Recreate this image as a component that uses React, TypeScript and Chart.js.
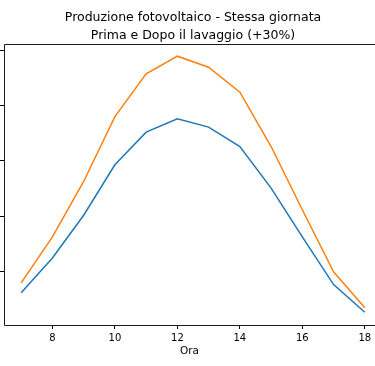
import React, { useEffect, useRef } from "react";
import { Chart, registerables } from "chart.js";

Chart.register(...registerables);

const hours = [7, 8, 9, 10, 11, 12, 13, 14, 15, 16, 17, 18];
const before = [0.62, 1.25, 2.02, 2.93, 3.52, 3.76, 3.61, 3.26, 2.51, 1.63, 0.77, 0.27];
const after = [0.80, 1.63, 2.63, 3.80, 4.57, 4.89, 4.69, 4.24, 3.26, 2.12, 1.00, 0.35];
const xTicks = [8, 10, 12, 14, 16, 18];
const yTicks = [1, 2, 3, 4, 5];
const titleLines = ["Produzione fotovoltaico - Stessa giornata", "Prima e Dopo il lavaggio (+30%)"];
const xLabel = "Ora";

const FONT = "'DejaVu Sans', sans-serif";

const framePlugin = {
  id: "frame",
  afterDatasetsDraw(chart: any) {
    const { ctx, chartArea } = chart;
    const l = Math.round(chartArea.left) + 0.5;
    const t = Math.round(chartArea.top) + 0.5;
    const r = chart.width;
    const b = Math.round(chartArea.bottom) + 0.5;
    ctx.save();
    ctx.strokeStyle = "#1a1a1a";
    ctx.lineWidth = 1;
    ctx.beginPath();
    ctx.moveTo(r, t);
    ctx.lineTo(l, t);
    ctx.lineTo(l, b);
    ctx.lineTo(r, b);
    ctx.stroke();
    ctx.restore();
  },
};

const titlePlugin = {
  id: "twoLineTitle",
  afterDraw(chart: any) {
    const { ctx, chartArea } = chart;
    // the axes box continues past the visible right edge (to ~382px)
    const cx = (chartArea.left + 382) / 2;
    ctx.save();
    ctx.fillStyle = "#000";
    ctx.font = `12.5px ${FONT}`;
    ctx.textAlign = "center";
    ctx.textBaseline = "alphabetic";
    ctx.fillText(titleLines[0], cx, 21);
    ctx.fillText(titleLines[1], cx, 38.7);
    ctx.restore();
  },
};

export default function App() {
  const ref = useRef<HTMLCanvasElement>(null);
  useEffect(() => {
    if (!ref.current) return;
    const chart = new Chart(ref.current, {
      type: "line",
      data: {
        datasets: [
          {
            label: "Prima",
            data: hours.map((h, i) => ({ x: h, y: before[i] })),
            borderColor: "#1f77b4",
            borderWidth: 1.5,
            pointRadius: 0,
            tension: 0,
          },
          {
            label: "Dopo",
            data: hours.map((h, i) => ({ x: h, y: after[i] })),
            borderColor: "#ff7f0e",
            borderWidth: 1.5,
            pointRadius: 0,
            tension: 0,
          },
        ],
      },
      options: {
        animation: false,
        responsive: false,
        maintainAspectRatio: false,
        layout: { padding: { left: 0, right: 0, top: 44, bottom: 0 } },
        plugins: {
          legend: { display: false },
          tooltip: { enabled: false },
          title: { display: false },
        },
        scales: {
          x: {
            type: "linear",
            min: 6.45,
            max: 18.326,
            afterBuildTicks: (s: any) => {
              s.ticks = xTicks.map((v) => ({ value: v }));
            },
            afterFit: (s: any) => {
              s.height = 41;
              s.paddingLeft = 0;
              s.paddingRight = 0;
            },
            grid: { drawOnChartArea: false, drawTicks: true, tickLength: 4, color: "#000" },
            border: { display: false },
            ticks: {
              color: "#000",
              font: { family: FONT, size: 10 },
              padding: 3,
              maxRotation: 0,
              autoSkip: false,
            },
            title: {
              display: true,
              text: xLabel,
              color: "#000",
              font: { family: FONT, size: 10.5 },
              padding: { top: 0, bottom: 8 },
            },
          },
          y: {
            type: "linear",
            min: 0.04,
            max: 5.11,
            afterBuildTicks: (s: any) => {
              s.ticks = yTicks.map((v) => ({ value: v }));
            },
            afterFit: (s: any) => {
              s.width = 4;
            },
            grid: { drawOnChartArea: false, drawTicks: true, tickLength: 4, color: "#000" },
            border: { display: false },
            ticks: { display: false },
          },
        },
      },
      plugins: [framePlugin, titlePlugin],
    } as any);
    return () => chart.destroy();
  }, []);
  return (
    <div style={{ position: "fixed", left: 0, top: 0, width: 375, height: 366, overflow: "hidden", background: "#fff" }}>
      <canvas ref={ref} width={375} height={366} style={{ width: 375, height: 366, display: "block" }} />
    </div>
  );
}
